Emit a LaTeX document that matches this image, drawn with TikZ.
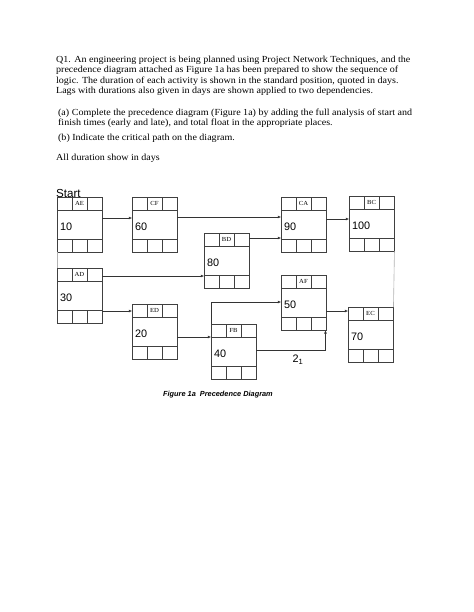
\documentclass[tikz,border=0pt]{standalone}
\usepackage{fontspec}
\setmainfont{Liberation Serif}[FakeStretch=1.08]
\setsansfont{Liberation Sans}
\usetikzlibrary{calc,arrows.meta}

\tikzset{
  actbox/.style={draw=black!75, line width=0.6pt, minimum width=58.1pt, minimum height=71pt, inner sep=0pt, anchor=north west},
  cell/.style={draw=black!75, line width=0.6pt},
  tag/.style={font=\fontsize{8}{8}\selectfont, inner sep=0pt},
  dur/.style={font=\sffamily\fontsize{14}{14}\selectfont, inner sep=0pt, anchor=west},
  link/.style={draw=black!80, line width=0.5pt, -{Latex[length=4pt,width=3.5pt]}},
  tie/.style={draw=black!30, line width=0.8pt},
  para/.style={anchor=north west, inner sep=0pt, align=left, font=\fontsize{12}{13.2}\selectfont},
}

% one activity box: name, top left corner, tag, duration
\newcommand{\activity}[4]{%
  \node[actbox] (#1) at (#2) {};
  \draw[cell] (#1.north west) ++(0,13) -- ++(45,0)
              (#1.south west) ++(0,-13) -- ++(45,0)
              (#1.north west) ++(15,0) -- ++(0,13)
              (#1.north west) ++(30,0) -- ++(0,13)
              (#1.south west) ++(15,0) -- ++(0,-13)
              (#1.south west) ++(30,0) -- ++(0,-13);
  \node[tag] (#1-tag) at ($(#1.north west)+(22.5,6.5)$) {#3};
  \node[dur] (#1-dur) at ($(#1.west)+(3,2)$) {#4};
}

\begin{document}
\begin{tikzpicture}[x=1.2911pt, y=-1.2911pt]
\useasboundingbox (0,0) rectangle (474,612);

% question text
\node[para] (q1) at (56,56) {Q1. An engineering project is being planned using Project Network Techniques, and the\\
precedence diagram attached as Figure 1a has been prepared to show the sequence of\\
logic. The duration of each activity is shown in the standard position, quoted in days.\\
Lags with durations also given in days are shown applied to two dependencies.};
\node[para] (qa) at (58,108.5) {(a) Complete the precedence diagram (Figure 1a) by adding the full analysis of start and\\
finish times (early and late), and total float in the appropriate places.};
\node[para] (qb) at (58,133.5) {(b) Indicate the critical path on the diagram.};
\node[para] (days) at (56,153.5) {All duration show in days};

% activities
\activity{AE}{57,197}{AE}{10}
\activity{CF}{132,197}{CF}{60}
\activity{BD}{204,233}{BD}{80}
\activity{CA}{281,197}{CA}{90}
\activity{BC}{349,196}{BC}{100}
\activity{AD}{57,268}{AD}{30}
\activity{ED}{132,304}{ED}{20}
\activity{FB}{211,324}{FB}{40}
\activity{AF}{281,275}{AF}{50}
\activity{EC}{348,307}{EC}{70}

\node[font=\sffamily\fontsize{15}{15}\selectfont, inner sep=0pt, anchor=base west] (start) at (56,197) {Start};

% dependencies
\draw[tie] (AE.south west) -- (AD.north west);
\draw[tie] (BC.south east) -- (EC.north east);
\draw[link] ($(AE.north east)+(0,21)$) -- ($(CF.north west)+(0,21)$);
\draw[link] ($(CF.north east)+(0,20)$) -- ($(CA.north west)+(0,20)$);
\draw[link] ($(BD.north east)+(0,5)$) -- ($(CA.north west)+(0,41)$);
\draw[link] ($(CA.north east)+(0,22)$) -- ($(BC.north west)+(0,23)$);
\draw[link] ($(AD.north east)+(0,8)$) -- ($(BD.north west)+(0,43)$);
\draw[link] ($(AD.north east)+(0,43)$) -- ($(ED.north west)+(0,7)$);
\draw[link] ($(ED.north east)+(0,33)$) -- ($(FB.north west)+(0,13)$);
\draw[link] (FB.north west) |- ($(AF.north west)+(0,27)$);
\draw[link] ($(FB.north east)+(0,26)$) -| ($(AF.south east)+(-1,0)$) node[pos=0.3, below=3pt, font=\sffamily\fontsize{14}{14}\selectfont] (lag) {2\textsubscript{1}};
\draw[link] ($(AF.north east)+(0,36)$) -- ($(EC.north west)+(0,4)$);

\node[font=\sffamily\bfseries\itshape\fontsize{9.5}{9.5}\selectfont, inner sep=0pt, anchor=base west] (caption) at (163,396) {Figure 1a\ \ Precedence Diagram};
\end{tikzpicture}
\end{document}
